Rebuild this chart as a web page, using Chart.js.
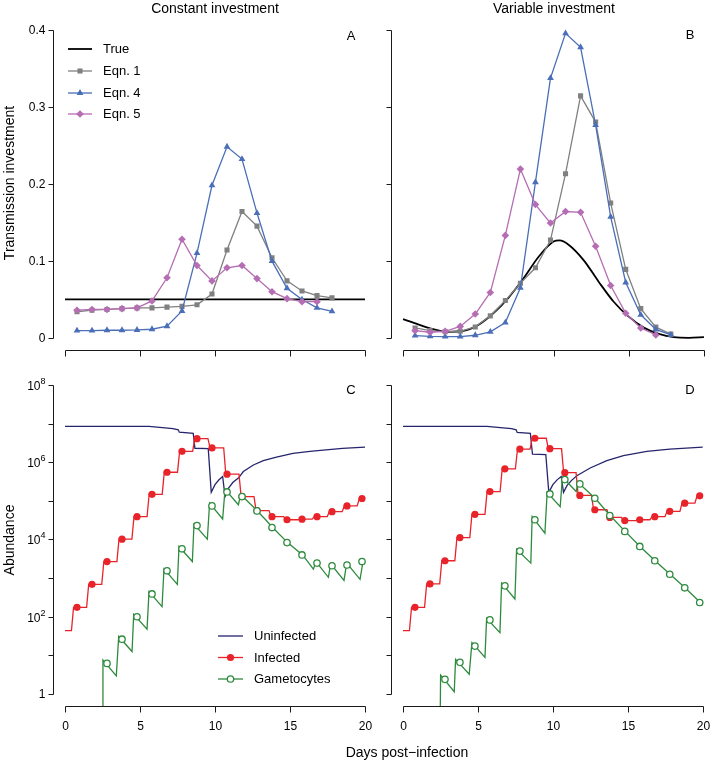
<!DOCTYPE html>
<html>
<head>
<meta charset="utf-8">
<script src="https://cdn.jsdelivr.net/npm/chart.js@4.4.0/dist/chart.umd.min.js"></script>
<style>
    html, body { margin: 0; padding: 0; background: #fff; overflow: hidden; }
    #wrap { position: relative; width: 714px; height: 763px; overflow: hidden;
            font-family: "Liberation Sans", Arial, sans-serif; color: #000; }
    #wrap canvas { position: absolute; left: 0; top: 0; }
    .lbl { position: absolute; white-space: nowrap; transform: translate(-50%, -50%); font-size: 14px; line-height: 1; }
    .rot { transform: translate(-50%, -50%) rotate(-90deg); }
    .let { font-size: 13px; }
</style>
</head>
<body>
<div id="wrap">
    <canvas id="panelA" width="720" height="763"></canvas>
    <canvas id="panelB" width="720" height="763"></canvas>
    <canvas id="panelC" width="720" height="763"></canvas>
    <canvas id="panelD" width="720" height="763"></canvas>

    <div class="lbl" style="left:215px; top:8px">Constant investment</div>
    <div class="lbl" style="left:554px; top:8px">Variable investment</div>
    <div class="lbl rot" style="left:9px; top:183px">Transmission investment</div>
    <div class="lbl rot" style="left:9px; top:540px">Abundance</div>
    <div class="lbl" style="left:407px; top:752px">Days post−infection</div>
    <div class="lbl let" style="left:351px; top:35px">A</div>
    <div class="lbl let" style="left:690px; top:34px">B</div>
    <div class="lbl let" style="left:351px; top:389px">C</div>
    <div class="lbl let" style="left:690px; top:389px">D</div>
</div>

<script>
// ─── Data ─────────────────────────────────────────────────────────────────

const dayTicks       = [0, 5, 10, 15, 20];
const dayTickLabels  = ['0', '5', '10', '15', '20'];
const invTicks       = [0, 0.1, 0.2, 0.3, 0.4];
const invTickLabels  = ['0', '0.1', '0.2', '0.3', '0.4'];
const abundTicks     = [1, 1e1, 1e2, 1e3, 1e4, 1e5, 1e6, 1e7, 1e8];
const abundLabelBase = ['1', '', '10', '', '10', '', '10', '', '10'];
const abundLabelExp  = ['',  '', '2',  '', '4',  '', '6',  '', '8'];

// Transmission investment estimates, one per day
const markDays = [0.8, 1.8, 2.8, 3.8, 4.8, 5.8, 6.8, 7.8, 8.8, 9.8, 10.8, 11.8, 12.8, 13.8, 14.8, 15.8, 16.8, 17.8];

const aTrueDays = [0, 20];
const aTrue     = [0.05, 0.05];
const aEqn1 = [0.034, 0.036, 0.037, 0.038, 0.039, 0.039, 0.040, 0.041, 0.043, 0.057, 0.114, 0.164, 0.145, 0.104, 0.074, 0.061, 0.055, 0.052];
const aEqn4 = [0.0095, 0.0095, 0.010, 0.010, 0.0104, 0.0113, 0.0152, 0.035, 0.110, 0.198, 0.248, 0.232, 0.162, 0.0996, 0.0645, 0.0498, 0.039, 0.0346];
const aEqn5 = [0.036, 0.037, 0.037, 0.038, 0.039, 0.048, 0.078, 0.128, 0.094, 0.074, 0.091, 0.094, 0.077, 0.060, 0.051, 0.047, 0.047];

const bTrueDays = [0, 1, 2, 3, 4, 5, 6, 7, 8, 9, 10, 10.4, 11, 12, 13, 14, 15, 16, 17, 18, 19, 20];
const bTrue     = [0.0245, 0.0177, 0.0115, 0.0080, 0.0091, 0.0169, 0.0320, 0.0520, 0.0770, 0.1050, 0.1250, 0.1265,
                   0.1210, 0.1010, 0.0730, 0.0470, 0.0276, 0.0134, 0.0052, 0.0010, 0.0002, 0.0010];
const bEqn1 = [0.013, 0.0095, 0.008, 0.0087, 0.0143, 0.0286, 0.0485, 0.071, 0.091, 0.127, 0.213, 0.314, 0.280, 0.175, 0.089, 0.038, 0.014, 0.005];
const bEqn4 = [0.003, 0.002, 0.0017, 0.0017, 0.0035, 0.008, 0.020, 0.065, 0.202, 0.337, 0.395, 0.377, 0.276, 0.157, 0.072, 0.030, 0.011, 0.004];
const bEqn5 = [0.0095, 0.0074, 0.0087, 0.015, 0.031, 0.059, 0.133, 0.219, 0.173, 0.149, 0.164, 0.163, 0.119, 0.068, 0.032, 0.013, 0.004];

// Abundance panels
const infMarkDays = [0.8, 1.8, 2.8, 3.8, 4.8, 5.8, 6.8, 7.8, 8.8, 9.8, 10.8, 11.8, 12.8, 13.8, 14.8, 15.8, 16.8, 17.8, 18.8, 19.8];
const gamMarkDays = [2.8, 3.8, 4.8, 5.8, 6.8, 7.8, 8.8, 9.8, 10.8, 11.8, 12.8, 13.8, 14.8, 15.8, 16.8, 17.8, 18.8, 19.8];

const cUninfDays = [0, 5.6, 6.5, 7.2, 7.55, 7.62, 8.55, 8.66, 9.55, 9.75, 10.0, 10.25, 10.51, 10.67, 10.9, 11.2, 11.56,
                    11.89, 12.56, 13.22, 14.1, 15.2, 16.33, 17.4, 18.5, 20];
const cUninf     = [8.5e6, 8.5e6, 7.9e6, 7.4e6, 6.9e6, 6.0e6, 5.6e6, 2.3e6, 2.24e6, 1.66e5, 2.63e5, 3.47e5, 4.27e5, 1.29e5,
                    2.14e5, 3.02e5, 3.89e5, 5.75e5, 8.5e5, 1.10e6, 1.35e6, 1.70e6, 1.91e6, 2.09e6, 2.29e6, 2.45e6];
// infected: level held between bursts, and the day of each burst
const cInfLevels = [44, 176, 692, 2690, 1.02e4, 3.89e4, 1.48e5, 5.5e5, 1.91e6, 4.07e6, 2.34e6, 4.9e5, 1.29e5, 5.6e4,
                    3.89e4, 3.24e4, 3.35e4, 3.89e4, 5.25e4, 7.4e4, 1.15e5];
const cInfSteps  = [0.5, 1.51, 2.52, 3.53, 4.53, 5.54, 6.55, 7.57, 8.58, 9.6, 10.65, 11.67, 12.67, 13.67, 14.65,
                    15.6, 16.55, 17.55, 18.55, 19.55];
const cGamDays   = [2.47, 2.53, 3.42, 3.58, 4.47, 4.58, 5.47, 5.6, 6.47, 6.6, 7.49, 7.6, 8.49, 8.6, 9.49, 9.64, 10.51,
                    10.67, 11.56, 11.71, 12.56, 13.33, 13.84, 14.84, 15.84, 16.56, 16.73, 17.56, 17.71, 18.6, 18.78,
                    19.67, 19.88];
const cGam       = [0.01, 7.6, 2.95, 30.9, 12.6, 115, 47.9, 447, 182, 1740, 692, 6610, 2690, 2.51e4, 1.02e4, 8.71e4,
                    3.39e4, 2.0e5, 7.94e4, 1.45e5, 6.92e4, 3.39e4, 2.04e4, 8320, 3980, 1700, 2690, 1050, 2340, 871,
                    2450, 933, 2880];
const cGamMarks  = [6.2, 26.3, 100, 389, 1550, 5750, 2.29e4, 7.41e4, 1.70e5, 1.29e5, 5.5e4, 2.04e4, 8320, 3980,
                    2450, 2090, 2190, 2690];

const dUninfDays = [0, 5.6, 6.5, 7.24, 7.55, 7.62, 8.5, 8.64, 9.53, 9.73, 10.0, 10.3, 10.56, 10.71, 10.95, 11.25,
                    11.6, 12.49, 13.6, 14.71, 16.27, 17.8, 20];
const dUninf     = [8.5e6, 8.5e6, 7.9e6, 7.4e6, 6.9e6, 5.9e6, 5.6e6, 1.62e6, 1.58e6, 1.66e5, 2.63e5, 3.55e5, 4.27e5,
                    1.66e5, 2.51e5, 3.39e5, 4.47e5, 7.08e5, 1.10e6, 1.48e6, 1.91e6, 2.19e6, 2.45e6];
const dInfLevels = [44, 176, 708, 2820, 1.12e4, 4.47e4, 1.74e5, 6.76e5, 2.19e6, 4.17e6, 2.24e6, 5.37e5, 1.38e5,
                    5.89e4, 3.72e4, 3.09e4, 3.24e4, 3.89e4, 5.37e4, 8.71e4, 1.35e5];
const dInfSteps  = [0.5, 1.51, 2.52, 3.53, 4.53, 5.54, 6.55, 7.57, 8.55, 9.63, 10.65, 11.62, 12.65, 13.68, 14.65,
                    15.6, 16.55, 17.55, 18.55, 19.55];
const dGamDays   = [2.45, 2.51, 3.42, 3.51, 4.42, 4.6, 5.47, 5.58, 6.47, 6.58, 7.47, 7.58, 8.53, 8.62, 9.47, 9.62,
                    10.49, 10.64, 11.56, 11.67, 12.82, 13.82, 14.82, 15.82, 16.82, 17.82, 18.82, 20];
const dGam       = [0.01, 3.1, 1.15, 7.9, 3.24, 21.4, 8.9, 91, 38.9, 741, 288, 5620, 2450, 3.89e4, 1.45e4, 1.66e5,
                    7.08e4, 4.07e5, 1.74e5, 3.02e5, 1.17e5, 4.17e4, 1.62e4, 6610, 2820, 1260, 562, 204];
const dGamMarks  = [2.4, 6.6, 17.4, 83, 631, 5010, 3.24e4, 1.51e5, 3.55e5, 2.75e5, 1.17e5, 4.17e4, 1.62e4, 6610,
                    2820, 1260, 562, 234];

// ─── Styles ───────────────────────────────────────────────────────────────

const W = 720, H = 763;
const FONT = '"Liberation Sans", Arial, Helvetica, sans-serif';

const styles = {
    truth: { color: '#000000', width: 1.8 },
    eqn1:  { color: '#808080', width: 1.3, marker: 'rect',     r: 3.6 },
    eqn4:  { color: '#4a6fb8', width: 1.3, marker: 'triangle', r: 3.9 },
    eqn5:  { color: '#b56db3', width: 1.3, marker: 'rectRot',  r: 3.8 },
    uninf: { color: '#25256e', width: 1.3 },
    inf:   { color: '#e8232a', width: 1.3, marker: 'circle',   r: 3.6 },
    gam:   { color: '#2e8b3e', width: 1.3, marker: 'circle',   r: 3.2, open: true }
};

// ─── Helpers ──────────────────────────────────────────────────────────────

function pts(xs, ys) {
    return ys.map((y, i) => ({ x: xs[i], y }));
}

/** Burst-synchronised step line from held levels and burst days */
function stepLine(levels, steps) {
    const half = 0.07;
    const out = [{ x: 0, y: levels[0] }];
    steps.forEach((s, i) => {
        out.push({ x: s - half, y: levels[i] }, { x: s + half, y: levels[i + 1] });
    });
    out.push({ x: 20, y: levels[levels.length - 1] });
    return out;
}

function lineSet(data, st, withPoints) {
    return {
        data,
        borderColor: st.color,
        borderWidth: st.width,
        tension: 0,
        clip: 0,
        pointRadius: withPoints ? st.r : 0,
        pointStyle: st.marker || 'circle',
        pointBackgroundColor: st.open ? '#ffffff' : st.color,
        pointBorderColor: st.color,
        pointBorderWidth: st.open ? 1.3 : 0
    };
}

function markSet(data, st) {
    return Object.assign(lineSet(data, st, true), { showLine: false });
}

function drawMarker(ctx, st, x, y) {
    const r = st.r;
    ctx.beginPath();
    if (st.marker === 'rect') {
        const s = r * Math.SQRT1_2;
        ctx.rect(x - s, y - s, 2 * s, 2 * s);
    } else if (st.marker === 'triangle') {
        for (let k = 0; k < 3; k++) {
            const a = k * 2 * Math.PI / 3;
            const px = x + Math.sin(a) * r, py = y - Math.cos(a) * r;
            k ? ctx.lineTo(px, py) : ctx.moveTo(px, py);
        }
        ctx.closePath();
    } else if (st.marker === 'rectRot') {
        ctx.moveTo(x, y - r); ctx.lineTo(x + r, y); ctx.lineTo(x, y + r); ctx.lineTo(x - r, y);
        ctx.closePath();
    } else {
        ctx.arc(x, y, r, 0, Math.PI * 2);
    }
    ctx.fillStyle = st.open ? '#ffffff' : st.color;
    ctx.fill();
    if (st.open) {
        ctx.lineWidth = 1.3;
        ctx.strokeStyle = st.color;
        ctx.stroke();
    }
}

// ─── Per-panel axis / legend config ───────────────────────────────────────

const panelCfg = {
    panelA: { yTicks: invTicks, yLabels: invTickLabels, xLabels: false,
              legend: { x0: 68, x1: 92, tx: 103, rows: [49, 71, 93, 114],
                        items: [['True', styles.truth, false], ['Eqn. 1', styles.eqn1, true],
                                ['Eqn. 4', styles.eqn4, true], ['Eqn. 5', styles.eqn5, true]] } },
    panelB: { yTicks: invTicks, yLabels: null, xLabels: false },
    panelC: { yTicks: abundTicks, yLog: true, yLabels: true, xLabels: true,
              legend: { x0: 218, x1: 243, tx: 254, rows: [636, 657.5, 679],
                        items: [['Uninfected', styles.uninf, false], ['Infected', styles.inf, true],
                                ['Gametocytes', styles.gam, true]] } },
    panelD: { yTicks: abundTicks, yLog: true, yLabels: null, xLabels: true }
};

// R-style detached axes: line spans first..last tick, ticks point outward
const rAxes = {
    id: 'rAxes',
    afterDraw(chart) {
        const cfg = panelCfg[chart.canvas.id];
        const { ctx, chartArea: ca, scales: { x, y } } = chart;
        const tl = 5;
        ctx.save();
        ctx.strokeStyle = '#1a1a1a';
        ctx.lineWidth = 1;

        // x axis
        const xb = Math.round(ca.bottom) + 0.5;
        const xp = dayTicks.map(v => Math.round(x.getPixelForValue(v)) + 0.5);
        ctx.beginPath();
        ctx.moveTo(xp[0], xb);
        ctx.lineTo(xp[xp.length - 1], xb);
        xp.forEach(px => { ctx.moveTo(px, xb); ctx.lineTo(px, xb + tl + 1); });
        ctx.stroke();

        // y axis
        const yl = Math.round(ca.left) + 0.5;
        const yp = cfg.yTicks.map(v => Math.round(y.getPixelForValue(v)) + 0.5);
        ctx.beginPath();
        ctx.moveTo(yl, yp[0]);
        ctx.lineTo(yl, yp[yp.length - 1]);
        yp.forEach(py => { ctx.moveTo(yl, py); ctx.lineTo(yl - tl, py); });
        ctx.stroke();

        ctx.fillStyle = '#000';
        if (cfg.xLabels) {
            ctx.font = `12px ${FONT}`;
            ctx.textAlign = 'center';
            ctx.textBaseline = 'middle';
            xp.forEach((px, i) => ctx.fillText(dayTickLabels[i], px, xb + 20));
        }
        if (cfg.yLabels && !cfg.yLog) {
            ctx.font = `12px ${FONT}`;
            ctx.textAlign = 'right';
            ctx.textBaseline = 'middle';
            yp.forEach((py, i) => ctx.fillText(cfg.yLabels[i], yl - 8, py));
        }
        if (cfg.yLabels && cfg.yLog) {
            yp.forEach((py, i) => {
                const base = abundLabelBase[i], exp = abundLabelExp[i];
                if (!base) return;
                const right = yl - 8;
                ctx.textBaseline = 'middle';
                ctx.textAlign = 'right';
                ctx.font = `9px ${FONT}`;
                const ew = exp ? ctx.measureText(exp).width : 0;
                if (exp) ctx.fillText(exp, right, py - 4);
                ctx.font = `12px ${FONT}`;
                ctx.fillText(base, right - ew, exp ? py + 1.5 : py);
            });
        }

        // legend
        const lg = cfg.legend;
        if (lg) {
            ctx.font = `13px ${FONT}`;
            ctx.textAlign = 'left';
            ctx.textBaseline = 'middle';
            lg.items.forEach(([label, st, mk], i) => {
                const ry = lg.rows[i];
                ctx.beginPath();
                ctx.strokeStyle = st.color;
                ctx.lineWidth = st.width;
                ctx.moveTo(lg.x0, ry);
                ctx.lineTo(lg.x1, ry);
                ctx.stroke();
                if (mk) drawMarker(ctx, st, (lg.x0 + lg.x1) / 2, ry);
                ctx.fillStyle = '#000';
                ctx.fillText(label, lg.tx, ry + 0.5);
            });
        }
        ctx.restore();
    }
};

function makePanel(id, area, yOpts, datasets) {
    return new Chart(document.getElementById(id), {
        type: 'line',
        data: { datasets },
        options: {
            responsive: false,
            animation: false,
            events: [],
            layout: { padding: { left: area[0], top: area[1], right: W - area[2], bottom: H - area[3] } },
            scales: {
                x: { type: 'linear', display: false, bounds: 'data', min: -0.8, max: 20.8 },
                y: Object.assign({ display: false, bounds: 'data' }, yOpts)
            },
            plugins: { legend: { display: false }, tooltip: { enabled: false } }
        },
        plugins: [rAxes]
    });
}

// ─── Build the four panels ────────────────────────────────────────────────

const invScale   = { type: 'linear', min: -0.016, max: 0.416 };
const abundScale = { type: 'logarithmic', min: 0.4786, max: 2.089e8 };

makePanel('panelA', [53, 17.2, 377, 350.3], invScale, [
    lineSet(pts(markDays, aEqn5), styles.eqn5, true),
    lineSet(pts(markDays, aEqn4), styles.eqn4, true),
    lineSet(pts(markDays, aEqn1), styles.eqn1, true),
    lineSet(pts(aTrueDays, aTrue), styles.truth, false)
]);

makePanel('panelB', [391, 17.2, 716, 350.3], invScale, [
    lineSet(pts(markDays, bEqn5), styles.eqn5, true),
    lineSet(pts(markDays, bEqn4), styles.eqn4, true),
    lineSet(pts(markDays, bEqn1), styles.eqn1, true),
    Object.assign(lineSet(pts(bTrueDays, bTrue), styles.truth, false), { cubicInterpolationMode: 'monotone' })
]);

makePanel('panelC', [53, 372.6, 377, 706.4], abundScale, [
    markSet(pts(gamMarkDays, cGamMarks), styles.gam),
    lineSet(pts(cGamDays, cGam), styles.gam, false),
    markSet(pts(infMarkDays, cInfLevels.slice(1)), styles.inf),
    lineSet(stepLine(cInfLevels, cInfSteps), styles.inf, false),
    lineSet(pts(cUninfDays, cUninf), styles.uninf, false)
]);

makePanel('panelD', [391, 372.6, 716, 706.4], abundScale, [
    markSet(pts(gamMarkDays, dGamMarks), styles.gam),
    lineSet(pts(dGamDays, dGam), styles.gam, false),
    markSet(pts(infMarkDays, dInfLevels.slice(1)), styles.inf),
    lineSet(stepLine(dInfLevels, dInfSteps), styles.inf, false),
    lineSet(pts(dUninfDays, dUninf), styles.uninf, false)
]);
</script>
</body>
</html>
